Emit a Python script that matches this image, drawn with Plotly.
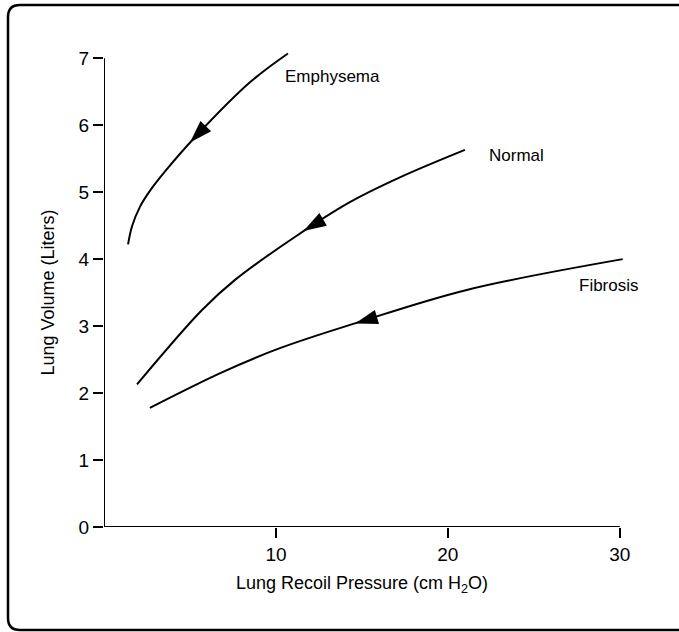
import plotly.graph_objects as go

# ---- data ----
emph_x = [1.40, 1.63, 2.09, 2.73, 3.55, 5.29, 8.49, 10.70]
emph_y = [4.22, 4.49, 4.78, 5.04, 5.31, 5.82, 6.64, 7.07]
norm_x = [1.92, 5.70, 7.62, 11.10, 14.30, 17.21, 20.99]
norm_y = [2.13, 3.24, 3.69, 4.33, 4.85, 5.22, 5.63]
fib_x = [2.67, 6.86, 10.23, 14.59, 21.10, 30.17]
fib_y = [1.78, 2.31, 2.67, 3.04, 3.54, 4.00]

# arrow heads: [upstream point, tip]
emph_arrow_x = [5.9, 5.0]
emph_arrow_y = [5.98, 5.74]
norm_arrow_x = [12.6, 11.6]
norm_arrow_y = [4.57, 4.42]
fib_arrow_x = [15.8, 14.6]
fib_arrow_y = [3.13, 3.04]

y_ticks = [0, 1, 2, 3, 4, 5, 6, 7]
x_ticks = [10, 20, 30]

labels = ["Emphysema", "Normal", "Fibrosis"]
label_x = [10.4, 22.3, 27.5]
label_y = [6.72, 5.55, 3.61]

FONT = "Liberation Sans, Arial, Helvetica, sans-serif"

W, H = 679, 632
L, R, T, B = 104, 42, 18, 105
PW, PH = W - L - R, H - T - B


def px(xp):
    return (xp - L) / PW


def py(yp):
    return (H - B - yp) / PH


fig = go.Figure()
for xs, ys in [(emph_x, emph_y), (norm_x, norm_y), (fib_x, fib_y)]:
    fig.add_trace(go.Scatter(x=xs, y=ys, mode="lines",
                             line=dict(color="black", width=2, shape="spline", smoothing=1.0),
                             showlegend=False, hoverinfo="skip"))
for xs, ys in [(emph_arrow_x, emph_arrow_y), (norm_arrow_x, norm_arrow_y), (fib_arrow_x, fib_arrow_y)]:
    fig.add_trace(go.Scatter(x=xs, y=ys, mode="markers",
                             marker=dict(symbol="arrow", size=[0, 24], color="black",
                                         opacity=1, angleref="previous", line=dict(width=0)),
                             showlegend=False, hoverinfo="skip"))

for t, x, y in zip(labels, label_x, label_y):
    fig.add_annotation(x=x, y=y, text=t, showarrow=False, xanchor="left",
                       yanchor="middle", font=dict(family=FONT, size=17, color="black"))

# axis lines
fig.add_shape(type="line", x0=0, x1=0, y0=0, y1=7, xref="x", yref="y",
              line=dict(color="black", width=2))
fig.add_shape(type="line", x0=0, x1=30, y0=0, y1=0, xref="x", yref="y",
              line=dict(color="black", width=2))

# rounded frame
r = 12
x_l, y_t, y_b, x_r = 8, 5, 630, 700
path = (f"M {px(x_r)} {py(y_t)} L {px(x_l + r)} {py(y_t)} "
        f"Q {px(x_l)} {py(y_t)} {px(x_l)} {py(y_t + r)} "
        f"L {px(x_l)} {py(y_b - r)} "
        f"Q {px(x_l)} {py(y_b)} {px(x_l + r)} {py(y_b)} "
        f"L {px(x_r)} {py(y_b)}")
fig.add_shape(type="path", path=path, xref="paper", yref="paper",
              line=dict(color="black", width=2.5))

# axis titles
fig.add_annotation(x=15, xref="x", y=py(584), yref="paper",
                   text="Lung Recoil Pressure (cm H<sub>2</sub>O)", showarrow=False,
                   xanchor="center", yanchor="middle",
                   font=dict(family=FONT, size=18, color="black"))
fig.add_annotation(x=px(48), xref="paper", y=3.5, yref="y",
                   text="Lung Volume (Liters)", showarrow=False, textangle=-90,
                   xanchor="center", yanchor="middle",
                   font=dict(family=FONT, size=18, color="black"))

fig.update_xaxes(range=[0, 31], tickvals=x_ticks, ticktext=[str(v) for v in x_ticks],
                 ticks="outside", ticklen=10, tickwidth=2, tickcolor="black",
                 showline=False, showgrid=False, zeroline=False,
                 tickfont=dict(family=FONT, size=19, color="black"))
fig.update_yaxes(range=[0, 7.6], tickvals=y_ticks, ticktext=[str(v) for v in y_ticks],
                 ticks="outside", ticklen=10, tickwidth=2, tickcolor="black",
                 showline=False, showgrid=False, zeroline=False,
                 tickfont=dict(family=FONT, size=19, color="black"))

fig.update_layout(width=W, height=H, margin=dict(l=L, r=R, t=T, b=B),
                  paper_bgcolor="white", plot_bgcolor="white")

fig.write_html("out.html", config={"displayModeBar": False},
               post_script="document.body.style.margin='0px';")
